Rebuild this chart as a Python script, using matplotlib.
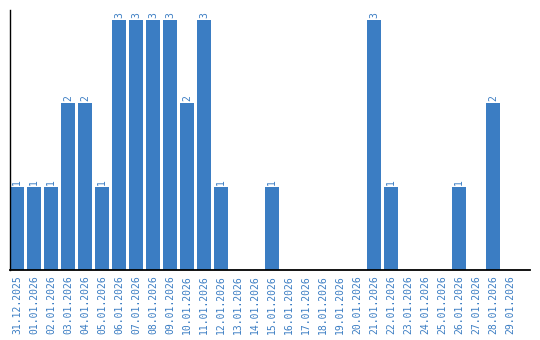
import matplotlib
matplotlib.use("Agg")
from matplotlib import pyplot as plt

dates = ['31.12.2025', '01.01.2026', '02.01.2026', '03.01.2026', '04.01.2026',
         '05.01.2026', '06.01.2026', '07.01.2026', '08.01.2026', '09.01.2026',
         '10.01.2026', '11.01.2026', '12.01.2026', '13.01.2026', '14.01.2026',
         '15.01.2026', '16.01.2026', '17.01.2026', '18.01.2026', '19.01.2026',
         '20.01.2026', '21.01.2026', '22.01.2026', '23.01.2026', '24.01.2026',
         '25.01.2026', '26.01.2026', '27.01.2026', '28.01.2026', '29.01.2026']
counts = [1, 1, 1, 2, 2, 1, 3, 3, 3, 3, 2, 3, 1, 0, 0,
          1, 0, 0, 0, 0, 0, 3, 1, 0, 0, 0, 1, 0, 2, 0]

blue = '#3b7dc3'
plt.rcParams['font.family'] = 'DejaVu Sans Mono'

fig = plt.figure(figsize=(5.4, 3.4), dpi=100)
ax = fig.add_axes([10 / 540, 70 / 340, 520 / 540, 260 / 340])

x = list(range(len(dates)))
ax.bar(x, counts, width=0.82, color=blue)

for xi, c in zip(x, counts):
    if c > 0:
        ax.annotate(str(c), (xi, c), xytext=(0, 1.5), textcoords='offset points',
                    ha='center', va='bottom', rotation=90, fontsize=7, color=blue)

ax.set_xlim(-0.41, 30.18)
ax.set_ylim(0, 3.12)
ax.set_xticks(x)
ax.set_xticklabels(dates, rotation=90, fontsize=7, color=blue)
ax.tick_params(axis='x', length=0, pad=4)
ax.set_yticks([])
ax.spines['top'].set_visible(False)
ax.spines['right'].set_visible(False)
ax.spines['left'].set_linewidth(1.0)
ax.spines['bottom'].set_linewidth(1.3)

fig.savefig('out.png', dpi=100)
